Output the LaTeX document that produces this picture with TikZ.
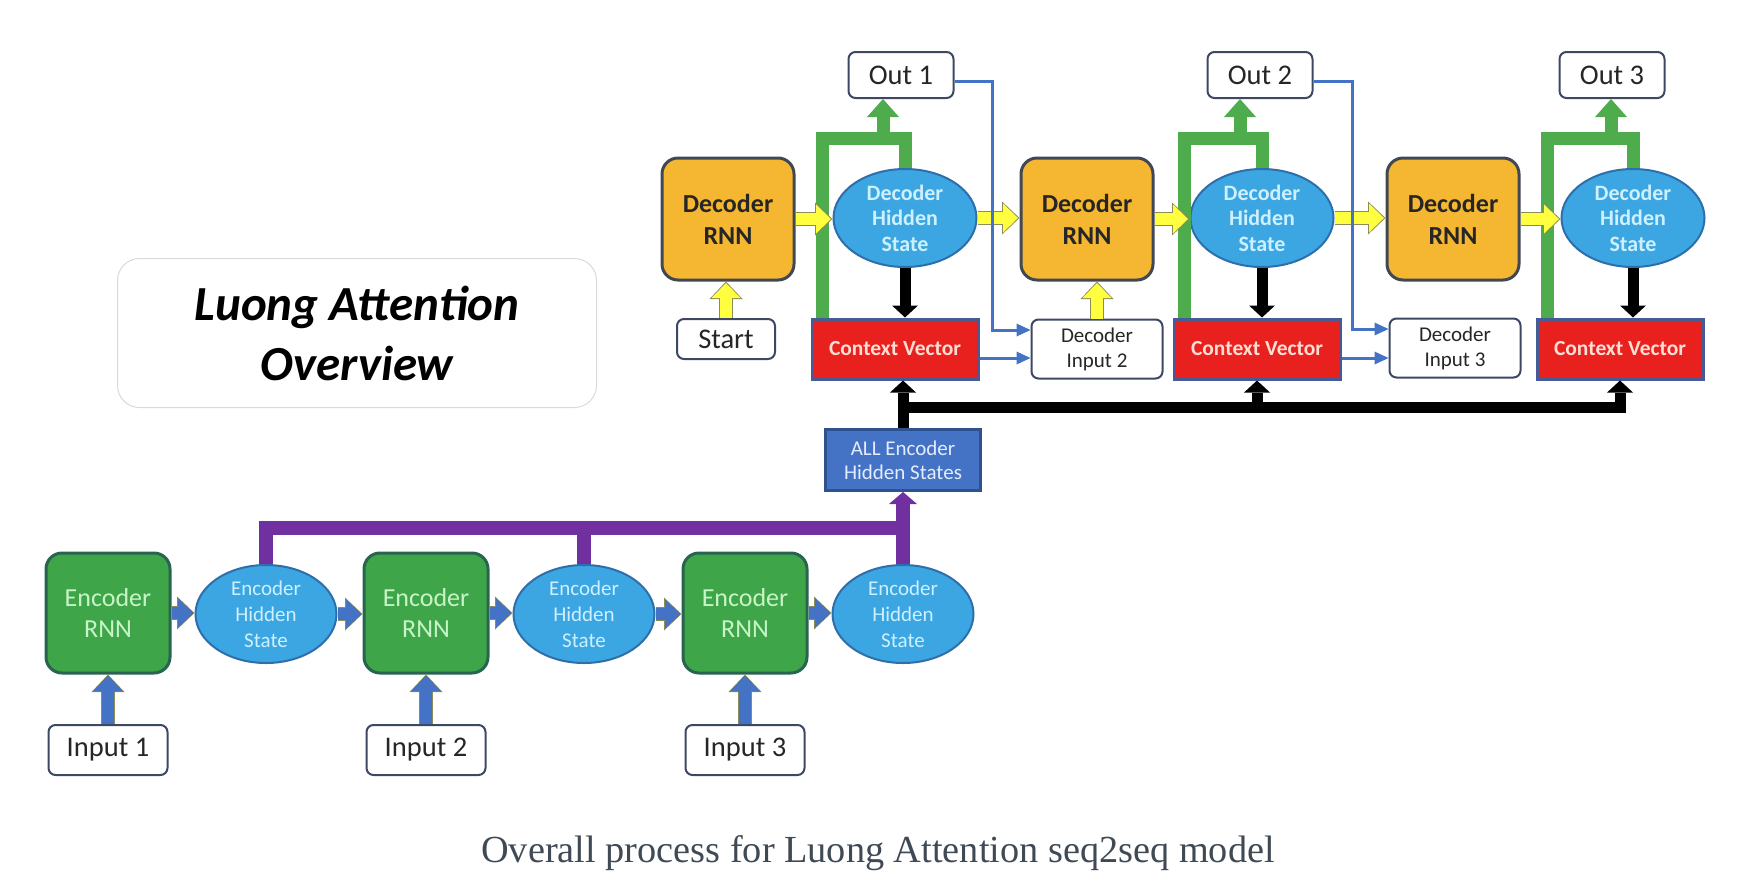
\documentclass[tikz,border=0pt]{standalone}
\usepackage{fontspec}
\setmainfont{Carlito}
\newfontfamily\capfont{Liberation Serif}
\usetikzlibrary{arrows.meta,shapes.geometric,calc}

\definecolor{drnnfill}{RGB}{245,183,49}
\definecolor{drnnline}{RGB}{64,72,84}
\definecolor{stfill}{RGB}{60,166,226}
\definecolor{stline}{RGB}{46,110,170}
\definecolor{sttext}{RGB}{205,240,255}
\definecolor{ernnfill}{RGB}{62,165,72}
\definecolor{ernnline}{RGB}{40,100,80}
\definecolor{ernntext}{RGB}{200,245,200}
\definecolor{cvfill}{RGB}{232,32,30}
\definecolor{cvline}{RGB}{70,90,150}
\definecolor{cvtext}{RGB}{255,222,212}
\definecolor{allfill}{RGB}{68,114,196}
\definecolor{allline}{RGB}{47,82,143}
\definecolor{alltext}{RGB}{228,236,255}
\definecolor{ylw}{RGB}{255,255,64}
\definecolor{ylwline}{RGB}{140,140,90}
\definecolor{grn}{RGB}{78,172,76}
\definecolor{prp}{RGB}{112,48,160}
\definecolor{boxline}{RGB}{60,72,100}
\definecolor{capgray}{RGB}{64,74,85}

\tikzset{
	decrnn/.style={draw=drnnline, line width=3pt, fill=drnnfill, rounded corners=16pt,
			minimum width=132pt, minimum height=122pt, inner sep=0pt, align=center,
			font=\fontsize{26}{32}\selectfont\bfseries, text=black!85},
	encrnn/.style={decrnn, draw=ernnline, fill=ernnfill, minimum width=124pt, minimum height=120pt,
			font=\fontsize{26}{31}\selectfont, text=ernntext},
	decstate/.style={ellipse, draw=stline, line width=2pt, fill=stfill, minimum width=143pt,
			minimum height=98pt, inner sep=0pt, align=center,
			font=\fontsize{22}{25.5}\selectfont\bfseries, text=sttext},
	encstate/.style={decstate, minimum width=141pt, font=\fontsize{21}{26}\selectfont},
	ctxbox/.style={draw=cvline, line width=3pt, fill=cvfill, minimum width=166pt, minimum height=60pt,
			inner sep=0pt, font=\fontsize{21.5}{24}\selectfont\bfseries, text=cvtext},
	allbox/.style={draw=allline, line width=3pt, fill=allfill, minimum width=155pt, minimum height=61pt,
			inner sep=0pt, align=center, font=\fontsize{21}{24}\selectfont, text=alltext},
	wbox/.style={draw=boxline, line width=2pt, fill=white, rounded corners=7pt, inner sep=0pt,
			align=center, font=\fontsize{28.5}{30}\selectfont, text=black!85},
	outbox/.style={wbox, minimum width=105pt, minimum height=46pt},
	startbox/.style={wbox, minimum width=98pt, minimum height=40pt},
	inbox/.style={wbox, minimum width=119pt, minimum height=50pt},
	dinbox/.style={wbox, minimum width=131pt, minimum height=59pt, font=\fontsize{21}{25}\selectfont},
	titlebox/.style={draw=black!15, line width=1pt, rounded corners=22pt, minimum width=479pt,
			minimum height=149pt, inner sep=0pt, align=center,
			font=\fontsize{49}{60}\selectfont\bfseries\itshape},
	% fat arrows with a thin outline
	yarw/.style={draw=ylw, line width=12pt, shorten >=1.5pt,
			-{Triangle[length=15pt,width=29pt,line width=0pt]},
			preaction={draw=ylwline, line width=14.5pt, shorten >=0pt,
					-{Triangle[length=17.5pt,width=33pt,line width=0pt]}}},
	barw/.style={yarw, draw=allfill, preaction={draw=allline}},
	garw/.style={draw=grn, line width=13pt, -{Triangle[length=18pt,width=32pt,line width=0pt]}},
	gline/.style={draw=grn, line width=13pt},
	karw/.style={draw=black, line width=11pt, -{Triangle[length=12pt,width=26pt,line width=0pt]}},
	pline/.style={draw=prp, line width=14pt},
	parw/.style={pline, -{Triangle[length=12pt,width=28pt,line width=0pt]}},
	tharw/.style={draw=allfill, line width=3pt, -{Triangle[length=14pt,width=13pt,line width=0pt]}}
}

\begin{document}
\begin{tikzpicture}[x=1pt,y=-1pt]
	\useasboundingbox (0,0) rectangle (1744,884);

	\node[titlebox] (title) at (357,333) {Luong Attention\\Overview};

	% encoder side
	\foreach \i/\x in {1/108, 2/426, 3/745} {
		\node[encrnn] (ernn\i) at (\x,613) {Encoder\\RNN};
		\node[encstate] (ehs\i) at (\x+158,614) {Encoder\\Hidden\\State};
		\node[inbox] (in\i) at (\x,750) {Input \i};
		\draw[barw] (in\i.north) -- (in\i.north |- ernn\i.south);
		\draw[barw] (ernn\i.east) -- (ernn\i.east -| ehs\i.west);
	}
	\draw[barw] (ehs1.east) -- (ehs1.east -| ernn2.west);
	\draw[barw] (ehs2.east) -- (ehs2.east -| ernn3.west);

	\node[allbox] (allenc) at (903,460) {ALL Encoder\\Hidden States};

	\coordinate (pbus) at ([yshift=36pt]ehs3.north);
	\draw[pline] (ehs1.north) |- (pbus);
	\draw[pline] (ehs2.north) -- (ehs2.north |- pbus);
	\draw[parw] (ehs3.north) -- (allenc.south);

	% decoder side
	\foreach \i/\xr/\xh/\xc/\xo in {1/728/905/895/901, 2/1087/1262/1257/1260, 3/1453/1633/1620/1612} {
		\node[decrnn] (drnn\i) at (\xr,219) {Decoder\\RNN};
		\node[decstate] (dhs\i) at (\xh,218) {Decoder\\Hidden\\State};
		\node[ctxbox] (cv\i) at (\xc,349) {Context Vector};
		\node[outbox] (out\i) at (\xo,75) {Out \i};
		\draw[karw] (dhs\i.south) -- (dhs\i.south |- cv\i.north);
		\draw[gline] ([xshift=12pt]cv\i.north west) |- ([yshift=30pt]dhs\i.north) -- (dhs\i.north);
		\coordinate (gj\i) at ([xshift=-22pt,yshift=30pt]dhs\i.north);
		\draw[garw] (gj\i) -- (gj\i |- out\i.south);
		\draw[yarw] (drnn\i.east) -- (drnn\i.east -| dhs\i.west);
	}
	\node[startbox] (start) at (726,339) {Start};
	\node[dinbox] (din2) at (1097,349) {Decoder\\Input 2};
	\node[dinbox] (din3) at (1455,348) {Decoder\\Input 3};

	\draw[yarw] (start.north) -- (start.north |- drnn1.south);
	\draw[yarw] (din2.north) -- (din2.north |- drnn2.south);
	\draw[yarw] (dhs1.east) -- (dhs1.east -| drnn2.west);
	\draw[yarw] (dhs2.east) -- (dhs2.east -| drnn3.west);

	% outputs fed back as next inputs
	\draw[tharw] ([yshift=-6pt]out1.east) -- ++(38,0) |- ([yshift=19pt]din2.west);
	\draw[tharw] ([yshift=-6pt]out2.east) -- ++(39,0) |- ([yshift=19pt]din3.west);
	\coordinate (cvr1) at ([yshift=-9pt]cv1.east);
	\coordinate (cvr2) at ([yshift=-9pt]cv2.east);
	\draw[tharw] (cvr1) -- (cvr1 -| din2.west);
	\draw[tharw] (cvr2) -- (cvr2 -| din3.west);

	% all encoder states to every context vector
	\coordinate (bus) at ([yshift=21pt]allenc.north);
	\draw[karw] (allenc.north) -- (allenc.north |- cv1.south);
	\draw[karw] (bus) -| (cv3.south);
	\draw[karw] (bus -| cv2.south) -- (cv2.south);

	\node[font=\capfont\fontsize{38.3}{44}\selectfont, text=capgray] (caption) at (878,853)
		{Overall process for Luong Attention seq2seq model};
\end{tikzpicture}
\end{document}
